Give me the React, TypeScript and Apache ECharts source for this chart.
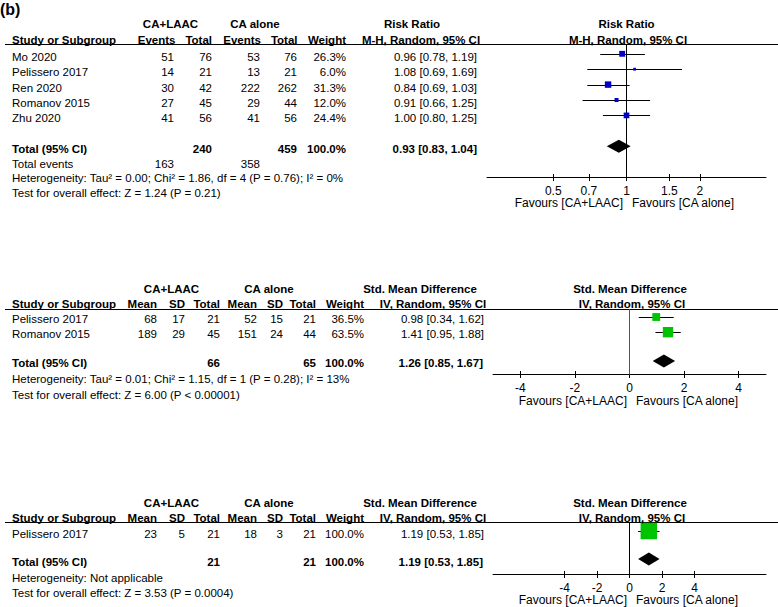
import React, { useEffect, useRef } from "react";
import * as echarts from "echarts";

const FONT = '"Liberation Sans", Arial, Helvetica, sans-serif';
const FS = 11.5;
const FS_AX = 12;

// ---------------- Panel 1 : Risk Ratio ----------------
const p1Studies = ["Mo 2020", "Pelissero 2017", "Ren 2020", "Romanov 2015", "Zhu 2020"];
const p1EventsA = [51, 14, 30, 27, 41];
const p1TotalA = [76, 21, 42, 45, 56];
const p1EventsB = [53, 13, 222, 29, 41];
const p1TotalB = [76, 21, 262, 44, 56];
const p1Weight = [26.3, 6.0, 31.3, 12.0, 24.4];
const p1Est = [0.96, 1.08, 0.84, 0.91, 1.0];
const p1Lo = [0.78, 0.69, 0.69, 0.66, 0.8];
const p1Hi = [1.19, 1.69, 1.03, 1.25, 1.25];
const p1Overall = [0.93, 0.83, 1.04];
const p1TotalN = [240, 459];
const p1TotalEvents = [163, 358];
const p1Het = "Heterogeneity: Tau² = 0.00; Chi² = 1.86, df = 4 (P = 0.76); I² = 0%";
const p1Test = "Test for overall effect: Z = 1.24 (P = 0.21)";
const p1Ticks = [0.5, 0.7, 1, 1.5, 2];

// ---------------- Panel 2 : Std. Mean Difference ----------------
const p2Studies = ["Pelissero 2017", "Romanov 2015"];
const p2MeanA = [68, 189];
const p2SdA = [17, 29];
const p2TotalA = [21, 45];
const p2MeanB = [52, 151];
const p2SdB = [15, 24];
const p2TotalB = [21, 44];
const p2Weight = [36.5, 63.5];
const p2Est = [0.98, 1.41];
const p2Lo = [0.34, 0.95];
const p2Hi = [1.62, 1.88];
const p2Overall = [1.26, 0.85, 1.67];
const p2TotalN = [66, 65];
const p2Het = "Heterogeneity: Tau² = 0.01; Chi² = 1.15, df = 1 (P = 0.28); I² = 13%";
const p2Test = "Test for overall effect: Z = 6.00 (P < 0.00001)";
const p2Ticks = [-4, -2, 0, 2, 4];

// ---------------- Panel 3 : Std. Mean Difference ----------------
const p3Studies = ["Pelissero 2017"];
const p3MeanA = [23];
const p3SdA = [5];
const p3TotalA = [21];
const p3MeanB = [18];
const p3SdB = [3];
const p3TotalB = [21];
const p3Weight = [100.0];
const p3Est = [1.19];
const p3Lo = [0.53];
const p3Hi = [1.85];
const p3Overall = [1.19, 0.53, 1.85];
const p3TotalN = [21, 21];
const p3Het = "Heterogeneity: Not applicable";
const p3Test = "Test for overall effect: Z = 3.53 (P = 0.0004)";
const p3Ticks = [-4, -2, 0, 2, 4];

const ci = (e: number, l: number, h: number) => `${e.toFixed(2)} [${l.toFixed(2)}, ${h.toFixed(2)}]`;
const pct = (w: number) => `${w.toFixed(1)}%`;

function txt(text: string, x: number, y: number, align = "left", bold = false, size = FS) {
  const font = `${bold ? "bold " : ""}${size}px ${FONT}`;
  return {
    type: "text",
    silent: true,
    z: 10,
    style: {
      text,
      x,
      y,
      fill: "#000",
      font,
      align,
      verticalAlign: "middle",
      textAlign: align,
      textVerticalAlign: "middle",
    },
  };
}

function hline(x1: number, x2: number, y: number) {
  return {
    type: "line",
    silent: true,
    shape: { x1, y1: y, x2, y2: y },
    style: { stroke: "#000", lineWidth: 1 },
  };
}

type PanelCfg = {
  grid: { left: number; top: number; width: number; height: number };
  xMin: number;
  xMax: number;
  ticks: number[];
  fmt: (v: number) => string;
  tf: (v: number) => number;
  refVal: number;
  markBase: number;
  rowH: number;
  totalIdx: number;
  color: string;
  k: number;
  refColor: string;
  est: number[];
  lo: number[];
  hi: number[];
  weight: number[];
  overall: number[];
};

const panels: PanelCfg[] = [
  {
    grid: { left: 487, top: 44, width: 279, height: 133.5 },
    xMin: -1.904,
    xMax: 1.904,
    ticks: p1Ticks,
    fmt: (v) => String(Number(Math.pow(2, v).toPrecision(2))),
    tf: (v) => Math.log2(v),
    refVal: 1,
    markBase: 53.8,
    rowH: 15.4,
    totalIdx: 6,
    color: "#0000C8",
    k: 1.15,
    refColor: "#000",
    est: p1Est,
    lo: p1Lo,
    hi: p1Hi,
    weight: p1Weight,
    overall: p1Overall,
  },
  {
    grid: { left: 493, top: 309, width: 273, height: 65.5 },
    xMin: -5,
    xMax: 5,
    ticks: p2Ticks,
    fmt: (v) => String(Math.round(v)),
    tf: (v) => v,
    refVal: 0,
    markBase: 317,
    rowH: 15.2,
    totalIdx: 2.9,
    color: "#00C400",
    k: 1.3,
    refColor: "#555",
    est: p2Est,
    lo: p2Lo,
    hi: p2Hi,
    weight: p2Weight,
    overall: p2Overall,
  },
  {
    grid: { left: 493, top: 522, width: 273, height: 52.5 },
    xMin: -8.4,
    xMax: 8.4,
    ticks: p3Ticks,
    fmt: (v) => String(Math.round(v)),
    tf: (v) => v,
    refVal: 0,
    markBase: 531,
    rowH: 14,
    totalIdx: 2,
    color: "#00C400",
    k: 1.65,
    refColor: "#000",
    est: p3Est,
    lo: p3Lo,
    hi: p3Hi,
    weight: p3Weight,
    overall: p3Overall,
  },
];

function buildOption() {
  const grids: any[] = [];
  const xAxes: any[] = [];
  const yAxes: any[] = [];
  const series: any[] = [];

  panels.forEach((p, g) => {
    grids.push({ ...p.grid, containLabel: false });
    const yMin = (p.grid.top - p.markBase) / p.rowH;
    const yMax = (p.grid.top + p.grid.height - p.markBase) / p.rowH;
    yAxes.push({ type: "value", gridIndex: g, inverse: true, min: yMin, max: yMax, show: false });
    const tickVals = p.ticks.map(p.tf);
    xAxes.push({
      type: "value",
      gridIndex: g,
      position: "bottom",
      min: p.xMin,
      max: p.xMax,
      axisLine: { show: true, onZero: false, lineStyle: { color: "#000", width: 1 } },
      axisTick: { show: true, inside: false, length: 3.5, customValues: tickVals, lineStyle: { color: "#000", width: 1 } },
      axisLabel: {
        show: true,
        customValues: tickVals,
        margin: 7,
        color: "#000",
        fontSize: FS_AX,
        fontFamily: FONT,
        formatter: (v: number) => p.fmt(v),
      },
      splitLine: { show: false },
    });
    xAxes.push({
      type: "value",
      gridIndex: g,
      position: "bottom",
      min: p.xMin,
      max: p.xMax,
      axisLine: { show: false, onZero: false },
      axisTick: { show: true, inside: true, length: 3.5, customValues: tickVals, lineStyle: { color: "#000", width: 1 } },
      axisLabel: { show: false },
      splitLine: { show: false },
    });
    const xi = g * 2;
    const refX = p.tf(p.refVal);
    series.push({
      type: "line",
      xAxisIndex: xi,
      yAxisIndex: g,
      silent: true,
      symbol: "none",
      z: 1,
      lineStyle: { color: p.refColor, width: 1 },
      data: [
        [refX, yMin],
        [refX, yMax],
      ],
    });
    const studyData = p.est.map((e, i) => [p.tf(e), p.tf(p.lo[i]), p.tf(p.hi[i]), i, p.weight[i]]);
    series.push({
      type: "custom",
      xAxisIndex: xi,
      yAxisIndex: g,
      z: 3,
      silent: true,
      data: studyData,
      renderItem: (_params: any, api: any) => {
        const row = api.value(3);
        const pe = api.coord([api.value(0), row]);
        const pl = api.coord([api.value(1), row]);
        const ph = api.coord([api.value(2), row]);
        const y = Math.round(pe[1]) + 0.5;
        const s = p.k * Math.sqrt(api.value(4));
        return {
          type: "group",
          children: [
            { type: "line", shape: { x1: pl[0], y1: y, x2: ph[0], y2: y }, style: { stroke: "#000", lineWidth: 1 } },
            { type: "rect", shape: { x: pe[0] - s / 2, y: pe[1] - s / 2, width: s, height: s }, style: { fill: p.color } },
          ],
        };
      },
    });
    series.push({
      type: "custom",
      xAxisIndex: xi,
      yAxisIndex: g,
      z: 3,
      silent: true,
      data: [[p.tf(p.overall[0]), p.tf(p.overall[1]), p.tf(p.overall[2]), p.totalIdx]],
      renderItem: (_params: any, api: any) => {
        const row = api.value(3);
        const pe = api.coord([api.value(0), row]);
        const pl = api.coord([api.value(1), row]);
        const ph = api.coord([api.value(2), row]);
        const h = 6.5;
        return {
          type: "polygon",
          shape: {
            points: [
              [pl[0], pe[1]],
              [pe[0], pe[1] - h],
              [ph[0], pe[1]],
              [pe[0], pe[1] + h],
            ],
          },
          style: { fill: "#000" },
        };
      },
    });
  });

  const els: any[] = [];
  els.push(txt("(b)", 0, 9, "left", true, 16));

  // ---- Panel 1 table ----
  {
    const p = panels[0];
    const rowY = (i: number) => p.markBase + p.rowH * i + 3;
    const h1 = 24, h2 = 40;
    els.push(txt("CA+LAAC", 170.5, h1, "center", true));
    els.push(txt("CA alone", 255, h1, "center", true));
    els.push(txt("Risk Ratio", 412, h1, "center", true));
    els.push(txt("Risk Ratio", 626.5, h1, "center", true));
    els.push(txt("Study or Subgroup", 12, h2, "left", true));
    els.push(txt("Events", 175.5, h2, "right", true));
    els.push(txt("Total", 212, h2, "right", true));
    els.push(txt("Events", 261, h2, "right", true));
    els.push(txt("Total", 297.5, h2, "right", true));
    els.push(txt("Weight", 346, h2, "right", true));
    els.push(txt("M-H, Random, 95% CI", 421, h2, "center", true));
    els.push(txt("M-H, Random, 95% CI", 628, h2, "center", true));
    els.push(hline(5, 778, 44.5));
    p1Studies.forEach((s, i) => {
      const y = rowY(i);
      els.push(txt(s, 12, y));
      els.push(txt(String(p1EventsA[i]), 174, y, "right"));
      els.push(txt(String(p1TotalA[i]), 212, y, "right"));
      els.push(txt(String(p1EventsB[i]), 260, y, "right"));
      els.push(txt(String(p1TotalB[i]), 297, y, "right"));
      els.push(txt(pct(p1Weight[i]), 346, y, "right"));
      els.push(txt(ci(p1Est[i], p1Lo[i], p1Hi[i]), 477, y, "right"));
    });
    const ty = rowY(p.totalIdx);
    els.push(txt("Total (95% CI)", 12, ty, "left", true));
    els.push(txt(String(p1TotalN[0]), 212, ty, "right", true));
    els.push(txt(String(p1TotalN[1]), 297, ty, "right", true));
    els.push(txt(pct(100), 346, ty, "right", true));
    els.push(txt(ci(p1Overall[0], p1Overall[1], p1Overall[2]), 477, ty, "right", true));
    els.push(txt("Total events", 12, 164));
    els.push(txt(String(p1TotalEvents[0]), 174, 164, "right"));
    els.push(txt(String(p1TotalEvents[1]), 260, 164, "right"));
    els.push(txt(p1Het, 12, 178.3));
    els.push(txt(p1Test, 12, 192.5));
    els.push(txt("Favours [CA+LAAC]", 623, 203, "right", false, FS_AX));
    els.push(txt("Favours [CA alone]", 632, 203, "left", false, FS_AX));
  }

  // ---- Panels 2 and 3 tables ----
  const smdPanels = [
    {
      p: panels[1], h1: 289, h2: 304, line: 309.5, dy: 2, foot: [379, 395], fav: 401,
      studies: p2Studies, mA: p2MeanA, sA: p2SdA, nA: p2TotalA, mB: p2MeanB, sB: p2SdB, nB: p2TotalB,
      w: p2Weight, est: p2Est, lo: p2Lo, hi: p2Hi, ov: p2Overall, tn: p2TotalN, het: p2Het, test: p2Test,
    },
    {
      p: panels[2], h1: 503, h2: 518, line: 522.5, dy: 3, foot: [578, 593], fav: 600,
      studies: p3Studies, mA: p3MeanA, sA: p3SdA, nA: p3TotalA, mB: p3MeanB, sB: p3SdB, nB: p3TotalB,
      w: p3Weight, est: p3Est, lo: p3Lo, hi: p3Hi, ov: p3Overall, tn: p3TotalN, het: p3Het, test: p3Test,
    },
  ];
  smdPanels.forEach((d) => {
    const p = d.p;
    const rowY = (i: number) => p.markBase + p.rowH * i + d.dy;
    els.push(txt("CA+LAAC", 171.5, d.h1, "center", true));
    els.push(txt("CA alone", 269, d.h1, "center", true));
    els.push(txt("Std. Mean Difference", 420, d.h1, "center", true));
    els.push(txt("Std. Mean Difference", 630, d.h1, "center", true));
    els.push(txt("Study or Subgroup", 12, d.h2, "left", true));
    els.push(txt("Mean", 157, d.h2, "right", true));
    els.push(txt("SD", 185, d.h2, "right", true));
    els.push(txt("Total", 220, d.h2, "right", true));
    els.push(txt("Mean", 257, d.h2, "right", true));
    els.push(txt("SD", 283, d.h2, "right", true));
    els.push(txt("Total", 316, d.h2, "right", true));
    els.push(txt("Weight", 364, d.h2, "right", true));
    els.push(txt("IV, Random, 95% CI", 433, d.h2, "center", true));
    els.push(txt("IV, Random, 95% CI", 632, d.h2, "center", true));
    els.push(hline(5, 778, d.line));
    d.studies.forEach((s, i) => {
      const y = rowY(i);
      els.push(txt(s, 12, y));
      els.push(txt(String(d.mA[i]), 157, y, "right"));
      els.push(txt(String(d.sA[i]), 185, y, "right"));
      els.push(txt(String(d.nA[i]), 220, y, "right"));
      els.push(txt(String(d.mB[i]), 257, y, "right"));
      els.push(txt(String(d.sB[i]), 283, y, "right"));
      els.push(txt(String(d.nB[i]), 316, y, "right"));
      els.push(txt(pct(d.w[i]), 364, y, "right"));
      els.push(txt(ci(d.est[i], d.lo[i], d.hi[i]), 484, y, "right"));
    });
    const ty = rowY(p.totalIdx);
    els.push(txt("Total (95% CI)", 12, ty, "left", true));
    els.push(txt(String(d.tn[0]), 220, ty, "right", true));
    els.push(txt(String(d.tn[1]), 316, ty, "right", true));
    els.push(txt(pct(100), 364, ty, "right", true));
    els.push(txt(ci(d.ov[0], d.ov[1], d.ov[2]), 483, ty, "right", true));
    els.push(txt(d.het, 12, d.foot[0]));
    els.push(txt(d.test, 12, d.foot[1]));
    els.push(txt("Favours [CA+LAAC]", 627, d.fav, "right", false, FS_AX));
    els.push(txt("Favours [CA alone]", 636, d.fav, "left", false, FS_AX));
  });

  return {
    animation: false,
    backgroundColor: "#fff",
    textStyle: { fontFamily: FONT },
    grid: grids,
    xAxis: xAxes,
    yAxis: yAxes,
    series,
    graphic: { elements: els },
  };
}

export default function App() {
  const ref = useRef<HTMLDivElement>(null);
  useEffect(() => {
    const chart = echarts.init(ref.current!, null, { renderer: "svg" });
    chart.setOption(buildOption() as any);
    return () => chart.dispose();
  }, []);
  return (
    <div
      ref={ref}
      style={{ position: "fixed", left: 0, top: 0, width: 778, height: 607, background: "#fff" }}
    />
  );
}
